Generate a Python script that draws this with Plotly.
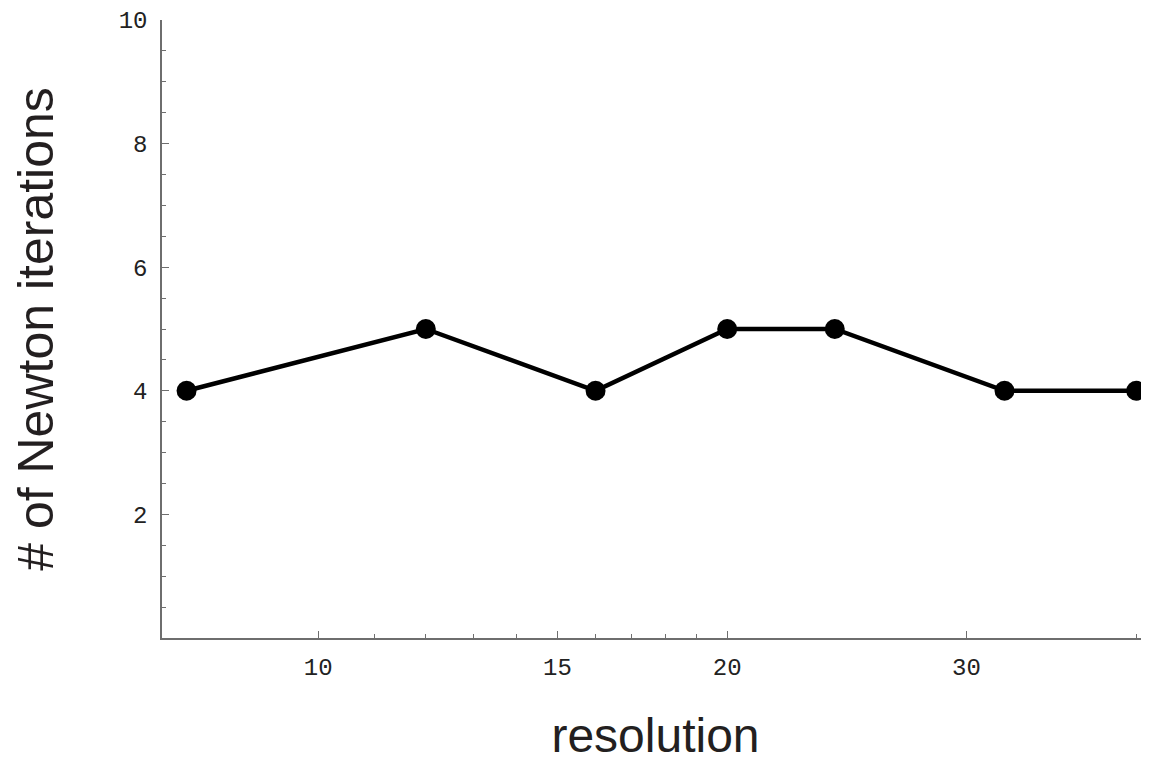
import plotly.graph_objects as go

resolution = [8, 12, 16, 20, 24, 32, 40]
newton_iters = [4, 5, 4, 5, 5, 4, 4]

x_major = [10, 15, 20, 30]
x_minor = [11, 12, 13, 14, 16, 17, 18, 19, 40]
y_major = [2, 4, 6, 8, 10]
y_minor = [0.5, 1, 1.5, 2.5, 3, 3.5, 4.5, 5, 5.5, 6.5, 7, 7.5, 8.5, 9, 9.5]

fig = go.Figure()
fig.add_trace(go.Scatter(
    x=resolution, y=newton_iters, mode="lines+markers",
    line=dict(color="black", width=4.5),
    marker=dict(color="black", size=20),
    showlegend=False, cliponaxis=False,
))

axis_line = "#6e6e6e"
tickfont = dict(family="Liberation Mono", size=24, color="#222")
titlefont = dict(family="Liberation Sans", size=48, color="#231f20")

fig.update_xaxes(
    type="log", range=[0.885, 1.6115],
    tickmode="array", tickvals=x_major, ticktext=[str(v) for v in x_major],
    ticks="inside", ticklen=7, tickwidth=1, tickcolor=axis_line,
    minor=dict(tickmode="array", tickvals=x_minor, ticks="inside", ticklen=4,
               tickwidth=1, tickcolor=axis_line, showgrid=False),
    showline=True, linecolor=axis_line, linewidth=1.5,
    showgrid=False, zeroline=False, tickfont=tickfont,
    ticklabelstandoff=6, ticklabeloverflow="allow",
    title=dict(text="resolution", font=titlefont, standoff=38),
)
fig.update_yaxes(
    range=[0, 10],
    tickmode="array", tickvals=y_major, ticktext=[str(v) for v in y_major],
    ticks="inside", ticklen=7, tickwidth=1, tickcolor=axis_line,
    minor=dict(tickmode="array", tickvals=y_minor, ticks="inside", ticklen=4,
               tickwidth=1, tickcolor=axis_line, showgrid=False),
    showline=True, linecolor=axis_line, linewidth=1.5,
    showgrid=False, zeroline=False, tickfont=tickfont,
    ticklabelstandoff=8, ticklabeloverflow="allow",
    title=dict(text="# of Newton iterations", font=dict(titlefont, size=50), standoff=60),
)
fig.update_layout(
    width=1141, height=758,
    margin=dict(l=154, r=0, t=10, b=128),
    plot_bgcolor="white", paper_bgcolor="white",
)
fig.write_html("out.html")
